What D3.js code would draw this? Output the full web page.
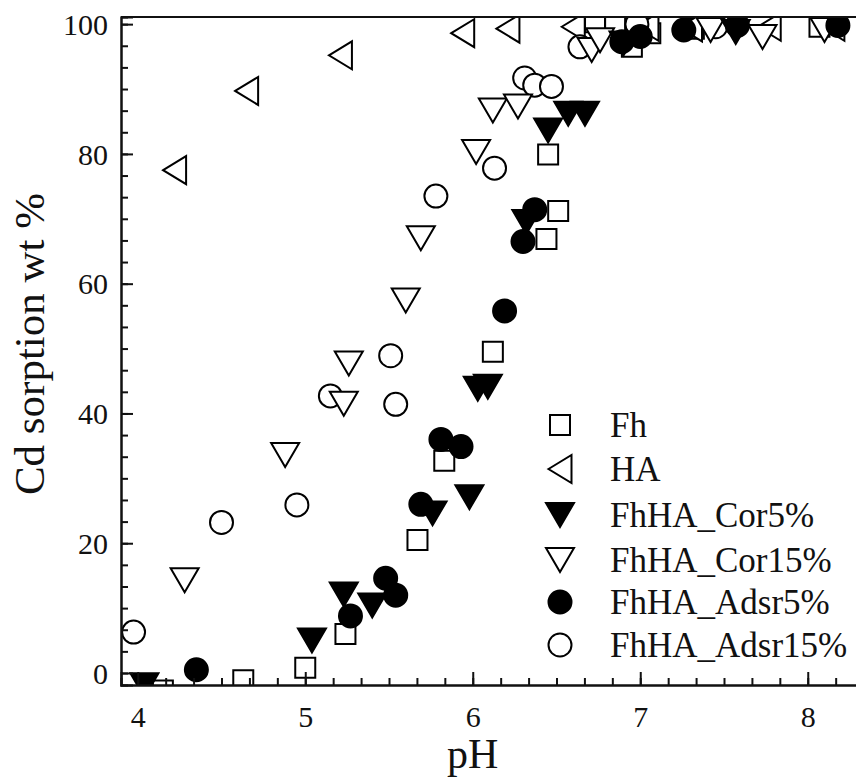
<!DOCTYPE html>
<html>
<head>
<meta charset="utf-8">
<script src="https://cdn.jsdelivr.net/npm/d3@7"></script>
<style>
    body { margin: 0; background: #fff; }
    text { font-family: "Liberation Serif", "Times New Roman", serif; fill: #111; }
</style>
</head>
<body>
<div id="chart"></div>
<script>
// pH / Cd sorption (wt %)
var fhPH   = [4.15, 4.63, 5.00, 5.24, 5.67, 5.83, 6.12, 6.44, 6.51, 6.45, 6.73, 6.85, 6.95, 7.06, 7.32, 8.07];
var fhSorp = [-2.7, -1.1, 0.8, 6.0, 20.5, 32.7, 49.5, 66.9, 71.2, 79.9, 100.3, 100.3, 96.5, 98.6, 99.3, 99.6];

var haPH   = [4.22, 4.65, 5.21, 5.94, 6.21, 6.60, 7.04, 7.30, 7.77, 8.15];
var haSorp = [77.5, 89.7, 95.2, 98.6, 99.3, 99.6, 99.6, 99.5, 99.6, 99.6];

var cor5PH   = [4.04, 5.04, 5.23, 5.40, 5.76, 5.98, 6.03, 6.09, 6.32, 6.45, 6.57, 6.67, 6.90, 7.57];
var cor5Sorp = [-1.9, 5.0, 12.1, 10.4, 24.6, 27.1, 43.8, 44.1, 69.5, 83.6, 86.2, 86.2, 97.0, 98.8];

var cor15PH   = [4.28, 4.88, 5.23, 5.26, 5.60, 5.69, 6.02, 6.12, 6.27, 6.71, 6.76, 7.42, 7.73, 8.10];
var cor15Sorp = [14.3, 33.6, 41.5, 47.7, 57.4, 67.0, 80.3, 86.7, 87.3, 96.0, 97.5, 99.1, 98.0, 99.1];

var adsr5PH   = [4.35, 5.27, 5.48, 5.54, 5.69, 5.81, 5.93, 6.19, 6.30, 6.37, 6.89, 7.00, 7.26, 7.58, 8.18];
var adsr5Sorp = [0.5, 8.8, 14.6, 12.0, 26.0, 36.0, 34.9, 55.8, 66.5, 71.4, 97.3, 98.1, 99.1, 99.8, 99.8];

var adsr15PH   = [3.975, 4.50, 4.95, 5.15, 5.51, 5.54, 5.78, 6.13, 6.31, 6.37, 6.47, 6.64, 6.98, 7.45];
var adsr15Sorp = [6.3, 23.2, 25.9, 42.7, 48.9, 41.4, 73.5, 77.8, 91.7, 90.6, 90.4, 96.5, 100.0, 99.6];

var seriesNames = ["Fh", "HA", "FhHA_Cor5%", "FhHA_Cor15%", "FhHA_Adsr5%", "FhHA_Adsr15%"];
var xTicks = [4, 5, 6, 7, 8];
var yTicks = [0, 20, 40, 60, 80, 100];

var series = [
    { name: seriesNames[0], shape: "square", filled: false, x: fhPH, y: fhSorp },
    { name: seriesNames[1], shape: "left", filled: false, x: haPH, y: haSorp },
    { name: seriesNames[2], shape: "down", filled: true, x: cor5PH, y: cor5Sorp },
    { name: seriesNames[3], shape: "down", filled: false, x: cor15PH, y: cor15Sorp },
    { name: seriesNames[4], shape: "circle", filled: true, x: adsr5PH, y: adsr5Sorp },
    { name: seriesNames[5], shape: "circle", filled: false, x: adsr15PH, y: adsr15Sorp }
];
// draw order (later on top)
var drawOrder = [0, 1, 5, 3, 2, 4];

var w = 856, h = 778;
var padL = 121, padT = 17, padR = 858, padB = 685;

var svg = d3.select("#chart").append("svg")
    .attr("width", w)
    .attr("height", h);

var xscale = d3.scaleLinear().domain([3.9, 8.3]).range([padL, padR]);
var yscale = d3.scaleLinear().domain([-1.85, 101.1]).range([padB, padT]);

// marker path centred on its bounding box
function markerPath(shape) {
    var p = d3.path();
    if (shape == "square") {
        p.rect(-10, -10, 20, 20);
    } else if (shape == "circle") {
        p.arc(0, 0, 11.5, 0, 2 * Math.PI);
    } else if (shape == "down") {
        p.moveTo(-14, -12); p.lineTo(14, -12); p.lineTo(0, 12); p.closePath();
    } else if (shape == "left") {
        p.moveTo(-11.5, 0); p.lineTo(11.5, -14); p.lineTo(11.5, 14); p.closePath();
    }
    return p.toString();
}

svg.append("clipPath").attr("id", "plotclip")
    .append("rect")
    .attr("x", padL).attr("y", padT)
    .attr("width", padR - padL).attr("height", padB - padT);

var plot = svg.append("g").attr("clip-path", "url(#plotclip)");

drawOrder.forEach(function (k) {
    var s = series[k];
    var pts = s.x.map(function (v, i) { return [v, s.y[i]]; });
    plot.append("g").selectAll("path")
        .data(pts)
        .enter().append("path")
        .attr("d", markerPath(s.shape))
        .attr("transform", function (d) {
            return "translate(" + xscale(d[0]) + "," + yscale(d[1]) + ")";
        })
        .attr("fill", s.filled ? "#000" : "#fff")
        .attr("stroke", "#000")
        .attr("stroke-width", 2);
});

// frame: top line, left and bottom axes
svg.append("line")
    .attr("x1", padL).attr("x2", padR).attr("y1", padT).attr("y2", padT)
    .attr("stroke", "#111").attr("stroke-width", 2);

var xMinor = d3.range(24, 50).map(function (i) { return i / 6; });
var yMinor = d3.range(0, 31).map(function (i) { return i * 20 / 6; });

var xaxisMinor = d3.axisTop(xscale).tickValues(xMinor).tickSize(7).tickFormat("");
var xaxis = d3.axisTop(xscale).tickValues(xTicks).tickSize(13).tickFormat(d3.format("d"));
var yaxisMinor = d3.axisRight(yscale).tickValues(yMinor).tickSize(7).tickFormat("");
var yaxis = d3.axisRight(yscale).tickValues(yTicks).tickSize(12).tickFormat(d3.format("d"));

svg.append("g").attr("transform", "translate(0," + padB + ")").call(xaxisMinor);
var gx = svg.append("g").attr("transform", "translate(0," + padB + ")").call(xaxis);
svg.append("g").attr("transform", "translate(" + padL + ",0)").call(yaxisMinor);
var gy = svg.append("g").attr("transform", "translate(" + padL + ",0)").call(yaxis);

svg.selectAll(".domain").attr("stroke", "#111").attr("stroke-width", 2);
svg.selectAll(".tick line").attr("stroke", "#111").attr("stroke-width", 2);

gx.selectAll(".tick text")
    .attr("y", 42)
    .attr("dy", 0)
    .attr("font-size", 30)
    .attr("text-anchor", "middle");

gy.selectAll(".tick text")
    .attr("x", -13)
    .attr("dy", "0.34em")
    .attr("font-size", 30)
    .attr("text-anchor", "end");

svg.selectAll(".tick text").attr("fill", "#111").style("font-family", "Liberation Serif, serif");

// axis titles
svg.append("text")
    .attr("x", xscale(6))
    .attr("y", 768)
    .attr("text-anchor", "middle")
    .attr("font-size", 42)
    .text("pH");

svg.append("text")
    .attr("transform", "translate(44," + 344 + ") rotate(-90)")
    .attr("text-anchor", "middle")
    .attr("font-size", 43)
    .text("Cd sorption wt %");

// legend
var legY = [425, 469, 515, 560, 602, 645];
var leg = svg.append("g");
series.forEach(function (s, i) {
    leg.append("path")
        .attr("d", markerPath(s.shape))
        .attr("transform", "translate(560," + legY[i] + ")")
        .attr("fill", s.filled ? "#000" : "#fff")
        .attr("stroke", "#000")
        .attr("stroke-width", 2);
    leg.append("text")
        .attr("x", 610)
        .attr("y", legY[i] + 12)
        .attr("font-size", 35)
        .text(s.name);
});
</script>
</body>
</html>
